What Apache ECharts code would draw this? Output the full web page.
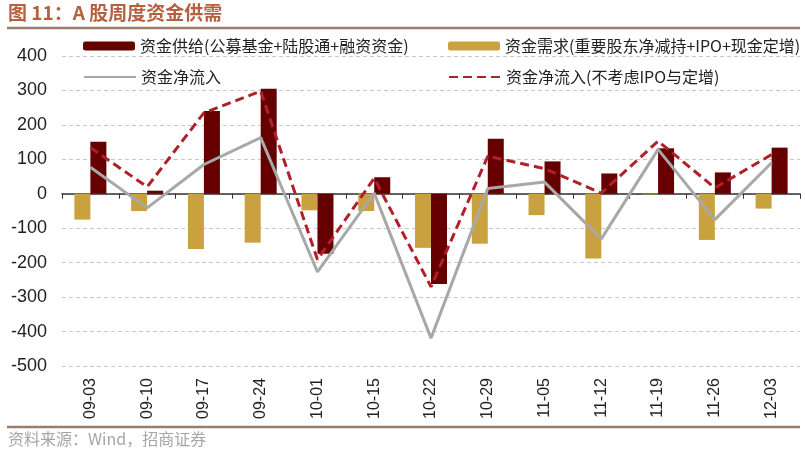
<!DOCTYPE html>
<html lang="zh">
<head>
    <meta charset="UTF-8">
    <title>A股周度资金供需</title>
    <script src="https://cdn.jsdelivr.net/npm/echarts@6/dist/echarts.min.js"></script>
</head>
<body style="margin:0;background:#fff">
<div id="main" style="width: 805px;height:456px;"></div>
<script type="text/javascript">
    // 数据
    var categories = ['09-03', '09-10', '09-17', '09-24', '10-01', '10-15', '10-22', '10-29', '11-05', '11-12', '11-19', '11-26', '12-03'];
    var supply = [151, 9, 240, 305, -174, 48, -262, 160, 94, 59, 132, 62, 134];
    var demand = [-75, -50, -160, -142, -48, -50, -157, -145, -62, -188, -2, -134, -43];
    var netFlow = [77, -41, 85, 163, -227, 2, -419, 15, 34, -131, 129, -75, 90];
    var netFlowExcl = [134, 20, 235, 298, -191, 45, -270, 109, 73, 2, 153, 17, 114];
    var yTicks = [400, 300, 200, 100, 0, -100, -200, -300, -400, -500];

    var nameSupply = '资金供给(公募基金+陆股通+融资资金)';
    var nameDemand = '资金需求(重要股东净减持+IPO+现金定增)';
    var nameNet = '资金净流入';
    var nameNetExcl = '资金净流入(不考虑IPO与定增)';

    var cjk = '"Noto Sans CJK SC", sans-serif';
    var latin = '"Liberation Sans", Arial, sans-serif';

    var myChart = echarts.init(document.getElementById('main'));

    function legendAt(name, left, top, isLine) {
        var lg = {
            data: [name],
            left: left,
            top: top,
            itemWidth: 52,
            itemHeight: 9,
            itemGap: 0,
            padding: 0,
            textStyle: {fontSize: 16, color: '#222', fontFamily: cjk}
        };
        // 线条图例不画圆点
        if (isLine) lg.itemStyle = {opacity: 0};
        return lg;
    }

    var option = {
        animation: false,
        textStyle: {fontFamily: latin},
        legend: [
            legendAt(nameSupply, 83, 38, false),
            legendAt(nameNet, 83, 69, true),
            legendAt(nameDemand, 448, 38, false),
            legendAt(nameNetExcl, 448, 69, true)
        ],
        grid: {left: 62, right: 5, top: 56, bottom: 90},
        xAxis: [{
            type: 'category',
            data: categories,
            position: 'bottom',
            axisLine: {onZero: true, lineStyle: {color: '#333', width: 1.5}},
            axisTick: {show: true, length: 5, lineStyle: {color: '#333'}},
            axisLabel: {show: false}
        }, {
            type: 'category',
            data: categories,
            position: 'bottom',
            axisLine: {show: false, onZero: false},
            axisTick: {show: false},
            axisLabel: {rotate: 90, fontSize: 16, color: '#222', margin: 12, fontFamily: latin, interval: 0}
        }],
        yAxis: {
            type: 'value',
            min: -500,
            max: 400,
            interval: 100,
            axisLine: {show: false},
            axisTick: {show: false},
            axisLabel: {fontSize: 18, color: '#222', margin: 15, fontFamily: latin},
            splitLine: {lineStyle: {color: '#C8C8C8', type: [4, 3]}}
        },
        series: [{
            name: nameDemand,
            type: 'bar',
            data: demand,
            barWidth: 16,
            barGap: '0%',
            itemStyle: {color: '#C9A13F'}
        }, {
            name: nameSupply,
            type: 'bar',
            data: supply,
            barWidth: 16,
            barGap: '0%',
            itemStyle: {color: '#660000'}
        }, {
            name: nameNet,
            type: 'line',
            data: netFlow,
            symbol: 'none',
            lineStyle: {color: '#A8A8A8', width: 3},
            itemStyle: {color: '#A8A8A8'},
            z: 3
        }, {
            name: nameNetExcl,
            type: 'line',
            data: netFlowExcl,
            symbol: 'none',
            lineStyle: {color: '#B0202A', width: 3, type: [9, 5]},
            itemStyle: {color: '#B0202A'},
            z: 4
        }],
        graphic: [{
            type: 'text',
            left: 8,
            top: 3,
            style: {text: '图 11：A 股周度资金供需', fontSize: 19, fontWeight: 'bold', fill: '#B5603F', fontFamily: cjk}
        }, {
            type: 'line',
            shape: {x1: 7, y1: 28, x2: 800, y2: 28},
            style: {stroke: '#9C7B68', lineWidth: 2.5}
        }, {
            type: 'line',
            shape: {x1: 7, y1: 427, x2: 800, y2: 427},
            style: {stroke: '#9C7B68', lineWidth: 2.5}
        }, {
            type: 'text',
            left: 8,
            top: 431,
            style: {text: '资料来源：Wind，招商证券', fontSize: 16, fill: '#A6A6A6', fontFamily: cjk}
        }]
    };

    myChart.setOption(option);
</script>
</body>
</html>
